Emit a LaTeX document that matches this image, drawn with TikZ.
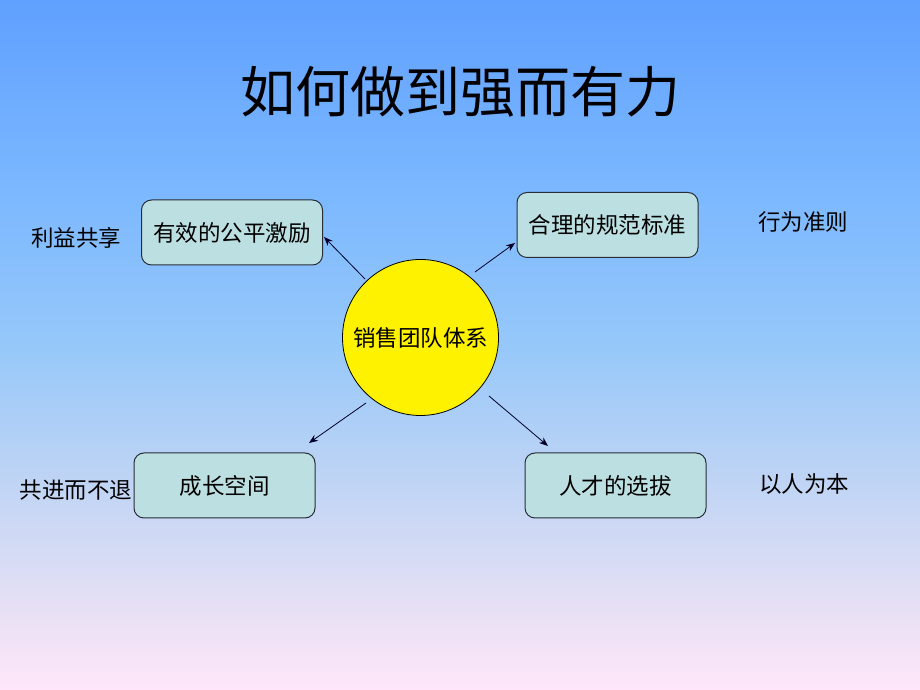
\documentclass[tikz,border=0pt]{standalone}
\usepackage{fontspec}
\setmainfont{Noto Sans CJK SC}
\usetikzlibrary{shapes.geometric,arrows.meta}
\definecolor{boxfill}{RGB}{188,224,226}
\definecolor{boxline}{RGB}{40,45,55}
\pgfdeclareverticalshading{bgshade}{100bp}{%
  rgb(0bp)=(1,0.902,0.98);
  rgb(25bp)=(1,0.902,0.98);
  rgb(30.07bp)=(0.922,0.882,0.961);
  rgb(34.42bp)=(0.843,0.863,0.961);
  rgb(41.67bp)=(0.725,0.824,0.961);
  rgb(50bp)=(0.588,0.784,0.98);
  rgb(60.51bp)=(0.49,0.725,1);
  rgb(75bp)=(0.376,0.627,1);
  rgb(100bp)=(0.376,0.627,1)}
\tikzset{
  topic/.style={draw=boxline, line width=1pt, fill=boxfill, rounded corners=10pt,
    minimum width=181pt, minimum height=65pt, inner sep=0pt, font=\fontsize{22.5}{26}\selectfont},
  hub/.style={circle, draw=black, line width=0.8pt, fill=yellow, minimum size=156pt,
    inner sep=0pt, font=\fontsize{22.5}{26}\selectfont},
  side/.style={inner sep=0pt, font=\fontsize{22.5}{26}\selectfont},
  arr/.style={-{Stealth[length=9pt,width=7pt]}, line width=0.8pt, color=black!85!blue}
}
\begin{document}
\begin{tikzpicture}[x=1pt,y=1pt]
\useasboundingbox (0,0) rectangle (920,690);
\shade[shading=bgshade] (0,0) rectangle (920,690);
\node[inner sep=0pt, font=\fontsize{55}{62}\selectfont] (title) at (460,598) {如何做到强而有力};
\node[hub] (c) at (420.5,352.5) {销售团队体系};
\node[topic] (b1) at (232,457.5) {有效的公平激励};
\node[topic] (b2) at (607.5,465) {合理的规范标准};
\node[topic] (b3) at (224.5,204.5) {成长空间};
\node[topic] (b4) at (615.5,204.5) {人才的选拔};
\node[side] (l1) at (76,452) {利益共享};
\node[side] (l2) at (803,468) {行为准则};
\node[side] (l3) at (76,200) {共进而不退};
\node[side] (l4) at (804,206) {以人为本};
\coordinate (s1) at (365,411); \coordinate (e1) at (324,453);
\coordinate (s2) at (475,418); \coordinate (e2) at (515,447);
\coordinate (s3) at (366,287); \coordinate (e3) at (309,247);
\coordinate (s4) at (489,294); \coordinate (e4) at (548,244);
\draw[arr] (s1) -- (e1);
\draw[arr] (s2) -- (e2);
\draw[arr] (s3) -- (e3);
\draw[arr] (s4) -- (e4);
\end{tikzpicture}
\end{document}
